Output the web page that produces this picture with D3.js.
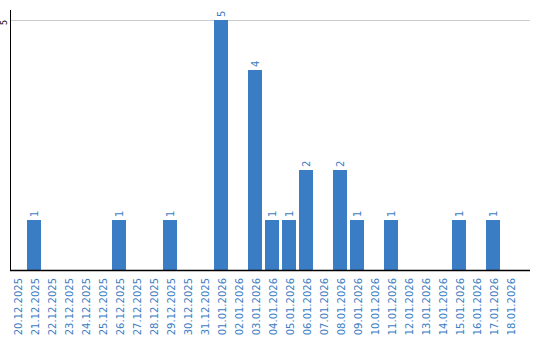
<!DOCTYPE html>
<html>
<head>
<meta charset="utf-8">
<script src="https://cdn.jsdelivr.net/npm/d3@7"></script>
<style>
  body { margin: 0; background: #fff; }
  svg { display: block; font-family: "DejaVu Sans", sans-serif; }
</style>
</head>
<body>
<svg id="chart" width="540" height="340"></svg>
<script>
// days shown on the x axis
const days = [
  '20.12.2025', '21.12.2025', '22.12.2025', '23.12.2025', '24.12.2025', '25.12.2025',
  '26.12.2025', '27.12.2025', '28.12.2025', '29.12.2025', '30.12.2025', '31.12.2025',
  '01.01.2026', '02.01.2026', '03.01.2026', '04.01.2026', '05.01.2026', '06.01.2026',
  '07.01.2026', '08.01.2026', '09.01.2026', '10.01.2026', '11.01.2026', '12.01.2026',
  '13.01.2026', '14.01.2026', '15.01.2026', '16.01.2026', '17.01.2026', '18.01.2026'
];
const counts = [
  0, 1, 0, 0, 0, 0,
  1, 0, 0, 1, 0, 0,
  5, 0, 4, 1, 1, 2,
  0, 2, 1, 0, 1, 0,
  0, 0, 1, 0, 1, 0
];
const yTicks = [5];

const blue = '#3b7dc4';
const svg = d3.select('#chart');

const x = d3.scaleBand()
  .domain(days)
  .range([8.5, 518.5])
  .paddingInner(3 / 17)
  .paddingOuter(1.5 / 17);

const y = d3.scaleLinear()
  .domain([0, 5])
  .range([270, 20]);

// gridline
svg.append('g')
  .selectAll('line')
  .data(yTicks)
  .join('line')
  .attr('x1', 11).attr('x2', 530)
  .attr('y1', d => y(d) + 0.5).attr('y2', d => y(d) + 0.5)
  .attr('stroke', '#cccccc');

// y tick label
svg.append('g')
  .selectAll('text')
  .data(yTicks)
  .join('text')
  .attr('transform', d => `translate(7,${y(d)}) rotate(-90)`)
  .attr('text-anchor', 'end')
  .attr('font-size', 8)
  .attr('fill', '#000')
  .text(d => d);

// bars
const data = days.map((d, i) => ({ day: d, n: counts[i] })).filter(d => d.n > 0);

svg.append('g')
  .selectAll('rect')
  .data(data)
  .join('rect')
  .attr('x', d => x(d.day))
  .attr('width', x.bandwidth())
  .attr('y', d => y(d.n))
  .attr('height', d => y(0) - y(d.n))
  .attr('fill', blue);

svg.append('g')
  .selectAll('text')
  .data(data)
  .join('text')
  .attr('transform', d => `translate(${x(d.day) + x.bandwidth() / 2 + 4},${y(d.n) - 3}) rotate(-90)`)
  .attr('font-size', 10)
  .attr('fill', blue)
  .text(d => d.n);

// x axis
const xAxis = svg.append('g')
  .attr('transform', 'translate(0,270)')
  .call(d3.axisBottom(x).tickSize(0));
xAxis.select('.domain').remove();
xAxis.selectAll('text')
  .attr('transform', 'rotate(-90)')
  .attr('x', -8)
  .attr('y', 0)
  .attr('dy', '0.45em')
  .attr('text-anchor', 'end')
  .attr('font-size', 10)
  .attr('font-family', '"DejaVu Sans", sans-serif')
  .attr('fill', blue);

// axis lines
svg.append('line')
  .attr('x1', 10.5).attr('x2', 10.5)
  .attr('y1', 10).attr('y2', 271)
  .attr('stroke', '#000');
svg.append('line')
  .attr('x1', 10).attr('x2', 530)
  .attr('y1', 270.5).attr('y2', 270.5)
  .attr('stroke', '#000')
  .attr('stroke-width', 1.5);
</script>
</body>
</html>
